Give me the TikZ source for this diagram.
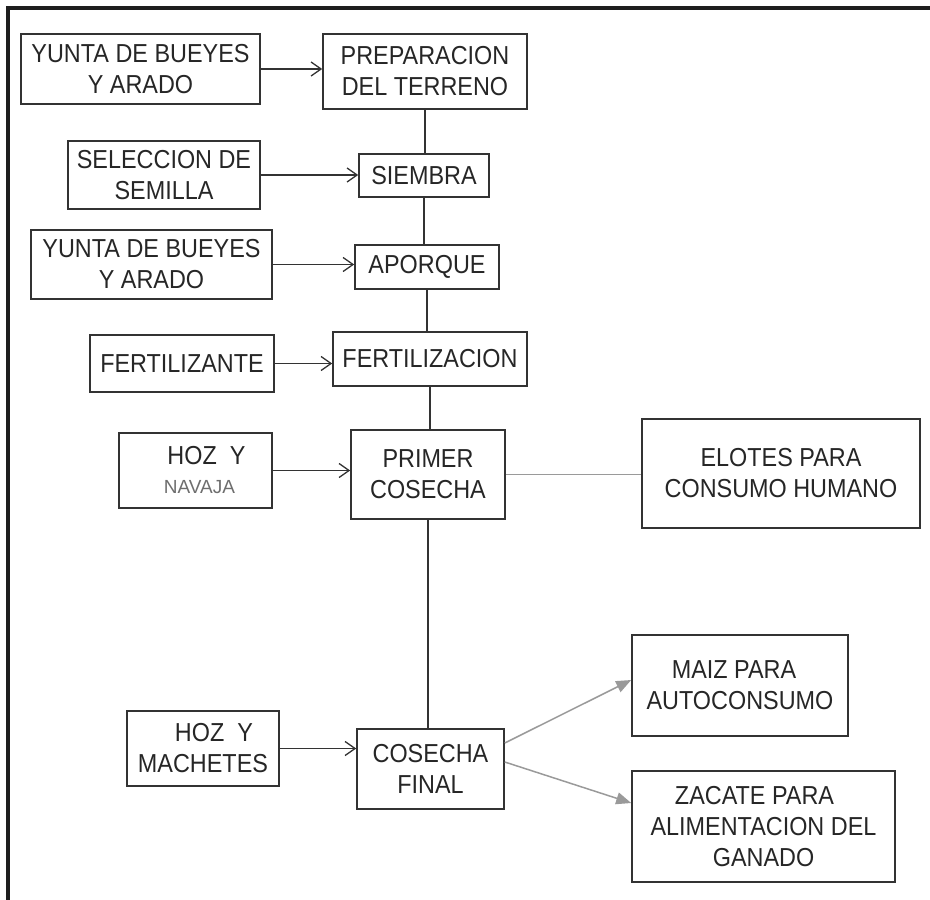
\documentclass[tikz,border=0pt]{standalone}
\usepackage{fontspec}
\setmainfont{Liberation Sans}[FakeStretch=0.9]
\newfontfamily\plainsans{Liberation Sans}
\usetikzlibrary{arrows.meta}
\definecolor{boxline}{HTML}{333333}
\definecolor{txt}{HTML}{262626}
\definecolor{lgray}{HTML}{9A9A9A}
\definecolor{navgray}{HTML}{6E6E6E}
\definecolor{framecol}{HTML}{1E1E1E}
\begin{document}
\begin{tikzpicture}[x=1pt,y=-1pt,
  box/.style={draw=boxline, line width=1.6pt, rectangle, inner sep=0pt, align=center, text=txt, font=\fontsize{26}{31}\selectfont},
  flow/.style={draw=boxline, line width=1.5pt},
  feed/.style={draw=boxline, line width=1.5pt, -{Straight Barb[length=10pt,width=14pt,line width=1.3pt]}},
  outline/.style={draw=lgray, line width=1.5pt},
  outarrow/.style={draw=lgray, line width=1.5pt, -{Triangle[length=15pt,width=12pt]}},
  framestyle/.style={draw=framecol, line width=3.2pt}
]
\useasboundingbox (0,0) rectangle (930,900);
% frame
\coordinate (ftr) at (930,8);
\coordinate (ftl) at (8,8);
\coordinate (fbl) at (8,900);
\draw[framestyle] (ftr) -- (ftl) -- (fbl);

% main column
\node[box, minimum width=204pt, minimum height=75pt] (prep) at (425,71.5) {PREPARACION\\DEL TERRENO};
\node[box, minimum width=130pt, minimum height=43pt] (siembra) at (424,175.5) {SIEMBRA};
\node[box, minimum width=144pt, minimum height=44pt] (aporque) at (427,267) {APORQUE};
\node[box, minimum width=194pt, minimum height=54pt] (fertz) at (430,359) {FERTILIZACION};
\node[box, minimum width=154pt, minimum height=89pt] (primer) at (428,474.5) {PRIMER\\COSECHA};
\node[box, minimum width=147pt, minimum height=80pt] (final) at (430.5,769) {COSECHA\\FINAL};

% inputs
\node[box, minimum width=239pt, minimum height=70pt] (yunta1) at (140.5,69) {YUNTA DE BUEYES\\Y ARADO};
\node[box, minimum width=192pt, minimum height=68pt] (selec) at (164,175) {SELECCION DE\\SEMILLA};
\node[box, minimum width=241pt, minimum height=69pt] (yunta2) at (151.5,264.5) {YUNTA DE BUEYES\\Y ARADO};
\node[box, minimum width=184pt, minimum height=57pt] (fertl) at (182,363.5) {FERTILIZANTE};
\node[box, minimum width=153pt, minimum height=75pt] (hozn) at (195.5,470.5) {\rule{22pt}{0pt}HOZ\ \ Y\\[-2pt]{\plainsans\fontsize{19}{22}\selectfont\color{navgray}\rule{8pt}{0pt}NAVAJA}};
\node[box, minimum width=152pt, minimum height=75pt] (hozm) at (203,748.5) {\rule{22pt}{0pt}HOZ\ \ Y\\MACHETES};

% outputs
\node[box, minimum width=278pt, minimum height=109pt] (elotes) at (781,473.5) {ELOTES PARA\\CONSUMO HUMANO};
\node[box, minimum width=216pt, minimum height=101pt] (maiz) at (740,685.5) {MAIZ PARA\rule{12pt}{0pt}\\AUTOCONSUMO};
\node[box, minimum width=263pt, minimum height=111pt] (zacate) at (763.5,826.5) {ZACATE PARA\rule{18pt}{0pt}\\ALIMENTACION DEL\\GANADO};

% vertical flow
\draw[flow] (prep.south) -- (prep.south |- siembra.north);
\draw[flow] (siembra.south) -- (siembra.south |- aporque.north);
\draw[flow] (aporque.south) -- (aporque.south |- fertz.north);
\draw[flow] (fertz.south) -- (fertz.south |- primer.north);
\draw[flow] (primer.south) -- (primer.south |- final.north);

% feeds
\draw[feed] (yunta1.east) -- (yunta1.east -| prep.west);
\draw[feed] (selec.east) -- (selec.east -| siembra.west);
\draw[feed] (yunta2.east) -- (yunta2.east -| aporque.west);
\draw[feed] (fertl.east) -- (fertl.east -| fertz.west);
\draw[feed] (hozn.east) -- (hozn.east -| primer.west);
\draw[feed] (hozm.east) -- (hozm.east -| final.west);

% outputs
\draw[outline] (primer.east) -- (primer.east -| elotes.west);
\draw[outarrow] ([yshift=26pt]final.east) -- ([yshift=5.5pt]maiz.west);
\draw[outarrow] ([yshift=7pt]final.east) -- ([yshift=23.5pt]zacate.west);
\end{tikzpicture}
\end{document}
